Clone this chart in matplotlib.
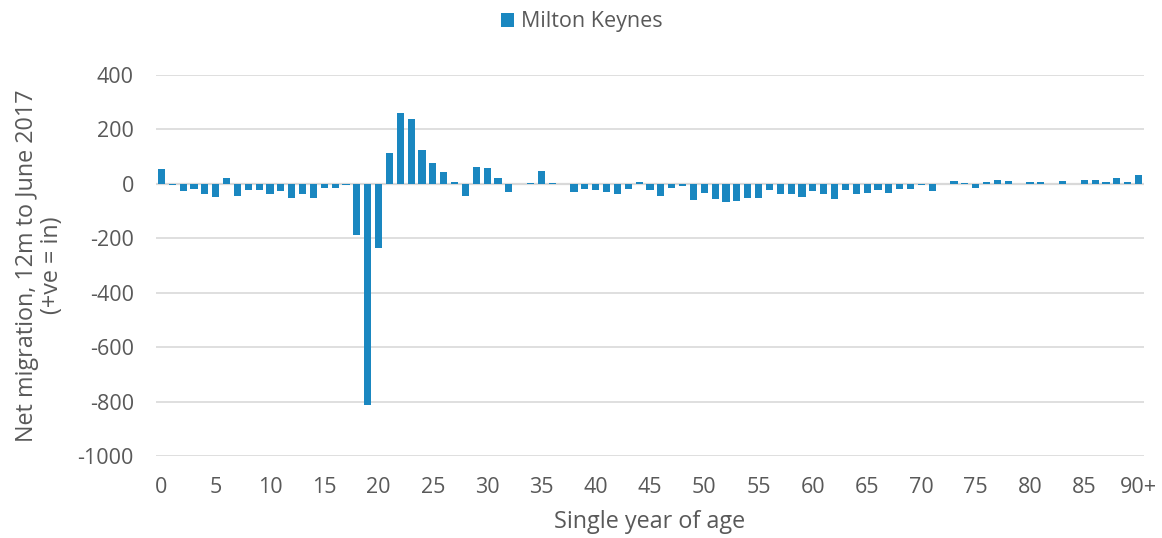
import matplotlib
matplotlib.use("Agg")
import matplotlib.pyplot as plt
import numpy as np

ages = list(range(91))
net_migration = [
    55, -5, -28, -18, -37, -49, 22, -45, -22, -23,
    -39, -27, -51, -39, -53, -17, -17, -3, -189, -811,
    -234, 114, 260, 238, 126, 76, 42, 6, -45, 61,
    60, 21, -31, 0, 2, 49, 3, 0, -29, -18,
    -22, -31, -39, -20, 5, -22, -45, -16, -8, -59,
    -32, -55, -67, -62, -51, -51, -22, -38, -38, -49,
    -26, -38, -56, -22, -37, -33, -21, -33, -20, -18,
    -6, -27, -2, 12, 4, -16, 5, 15, 9, 0,
    6, 6, 0, 11, 0, 15, 15, 8, 22, 8,
    32,
]
tick_positions = list(range(0, 91, 5))
tick_labels = [str(v) for v in range(0, 90, 5)] + ["90+"]
y_ticks = [400, 200, 0, -200, -400, -600, -800, -1000]

plt.rcParams['font.family'] = ['Open Sans', 'DejaVu Sans']
text_color = '#595959'
bar_color = '#1A87C0'
grid_color = '#D9D9D9'

fig = plt.figure(figsize=(11.62, 5.38), dpi=100)
ax = fig.add_axes([156/1162, 1-456/538, (1144-156)/1162, (456-75)/538])

ax.bar(ages, net_migration, width=0.67, color=bar_color, label='Milton Keynes', zorder=3)
ax.set_xlim(-0.5, 90.5)
ax.set_ylim(-1000, 400)
ax.set_yticks(y_ticks)
ax.set_yticklabels([str(v) for v in y_ticks])
ax.set_xticks(tick_positions)
ax.set_xticklabels(tick_labels)
ax.grid(axis='y', color=grid_color, linewidth=1.2, zorder=0)
ax.axhline(0, color=grid_color, linewidth=1.6, zorder=2)
for s in ax.spines.values():
    s.set_visible(False)
ax.tick_params(axis='both', length=0, labelsize=15.5, colors=text_color)
ax.tick_params(axis='y', pad=16)
ax.tick_params(axis='x', pad=15)
ax.set_xlabel('Single year of age', fontsize=16.8, color=text_color, labelpad=9)
ax.set_ylabel('Net migration, 12m to June 2017\n(+ve = in)', fontsize=16.8, color=text_color,
              labelpad=10, linespacing=1.05)

leg = fig.legend(loc='center', bbox_to_anchor=(582/1162, 1-22/538), frameon=False,
                 fontsize=15.5, handlelength=0.6, handleheight=0.6, handletextpad=0.35,
                 labelcolor=text_color)

fig.savefig('out.png', dpi=100)
